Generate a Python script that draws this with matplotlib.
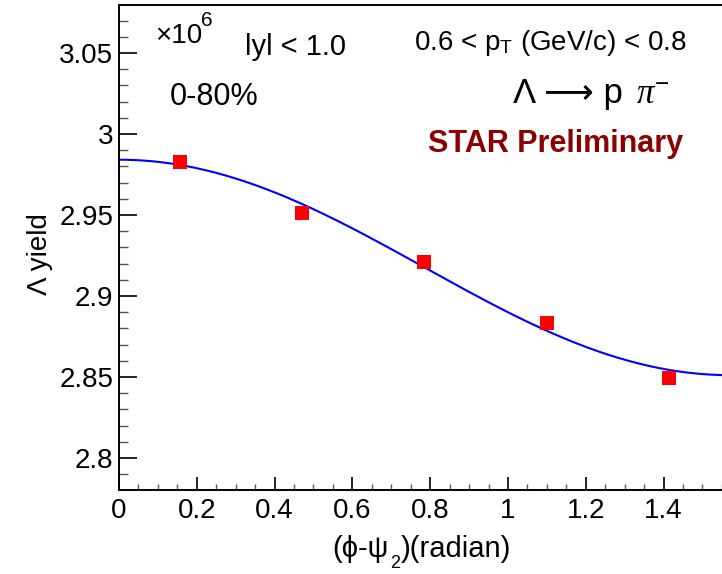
import numpy as np
import matplotlib
matplotlib.use("Agg")
import matplotlib.pyplot as plt
from matplotlib.ticker import MultipleLocator, FormatStrFormatter

# data (yield in units of 10^6)
phi_centers = [0.157, 0.471, 0.785, 1.100, 1.414]
lambda_yield = [2.9827, 2.9512, 2.9210, 2.8833, 2.8494]

# fit: p0 + p1*cos(2x)
fit_p0 = 2.9176
fit_p1 = 0.0665

W, H = 722, 574

plt.rcParams['font.family'] = ['Liberation Sans', 'DejaVu Sans']
plt.rcParams['mathtext.fontset'] = 'custom'
plt.rcParams['mathtext.rm'] = 'Liberation Sans'
plt.rcParams['mathtext.it'] = 'Liberation Serif:italic'
plt.rcParams['mathtext.bf'] = 'Liberation Sans:bold'

fig = plt.figure(figsize=(W / 100, H / 100), dpi=100)
# axes box in pixels: left 119, right 730 (cut off), top 5, bottom 490
ax = fig.add_axes([119 / W, (H - 490) / H, (730 - 119) / W, (490 - 5) / H])

xs = np.linspace(0, np.pi / 2, 300)
ax.plot(xs, fit_p0 + fit_p1 * np.cos(2 * xs), color='#0000ff', lw=1.5)
ax.plot(phi_centers, lambda_yield, 's', color='#ff0000', ms=10, mew=0)

ax.set_xlim(0, np.pi / 2)
ax.set_ylim(2.7802, 3.0796)

ax.xaxis.set_major_locator(MultipleLocator(0.2))
ax.xaxis.set_minor_locator(MultipleLocator(0.05))
ax.yaxis.set_major_locator(MultipleLocator(0.05))
ax.yaxis.set_minor_locator(MultipleLocator(0.01))
ax.xaxis.set_major_formatter(FormatStrFormatter('%g'))
ax.yaxis.set_major_formatter(FormatStrFormatter('%g'))

ax.tick_params(axis='both', which='both', direction='in', labelsize=20,
               top=False, right=False)
ax.tick_params(axis='y', which='major', length=13, width=1.2, pad=4)
ax.tick_params(axis='y', which='minor', length=6.5, width=1.0, color='#555555')
ax.tick_params(axis='x', which='major', length=9.5, width=1.2, pad=6)
ax.tick_params(axis='x', which='minor', length=4.5, width=1.0, color='#555555')
for s in ax.spines.values():
    s.set_linewidth(1.4)


def ftext(x, y, s, **kw):
    fig.text(x / W, 1 - y / H, s, **kw)


# x title, pieced together ROOT-style with a deep subscript
ftext(389, 557, '(ϕ-ψ', fontsize=21, ha='right', va='baseline')
ftext(390, 568, '2', fontsize=13, ha='left', va='baseline')
ftext(401, 557, ')(radian)', fontsize=21, ha='left', va='baseline')
ftext(40, 254, 'Λ yield', fontsize=20, ha='center', va='center', rotation=90)

ftext(155, 43, '×10', fontsize=20, ha='left', va='baseline')
ftext(201, 26, '6', fontsize=15, ha='left', va='baseline')
ftext(245, 55, 'lyl < 1.0', fontsize=21, ha='left', va='baseline')
ftext(170, 105, '0-80%', fontsize=22, ha='left', va='baseline')
ftext(414, 50, r'0.6 < p$_\mathrm{T}$ (GeV/c) < 0.8', fontsize=20,
      ha='left', va='baseline')
ftext(513, 103, 'Λ ⟶ p', fontsize=25, ha='left', va='baseline')
ftext(636, 103, r'$\pi^{-}$', fontsize=25, ha='left', va='baseline')
ftext(428, 152, 'STAR Preliminary', fontsize=22, fontweight='bold',
      color='#8c0000', ha='left', va='baseline')

fig.savefig('out.png', dpi=100)
